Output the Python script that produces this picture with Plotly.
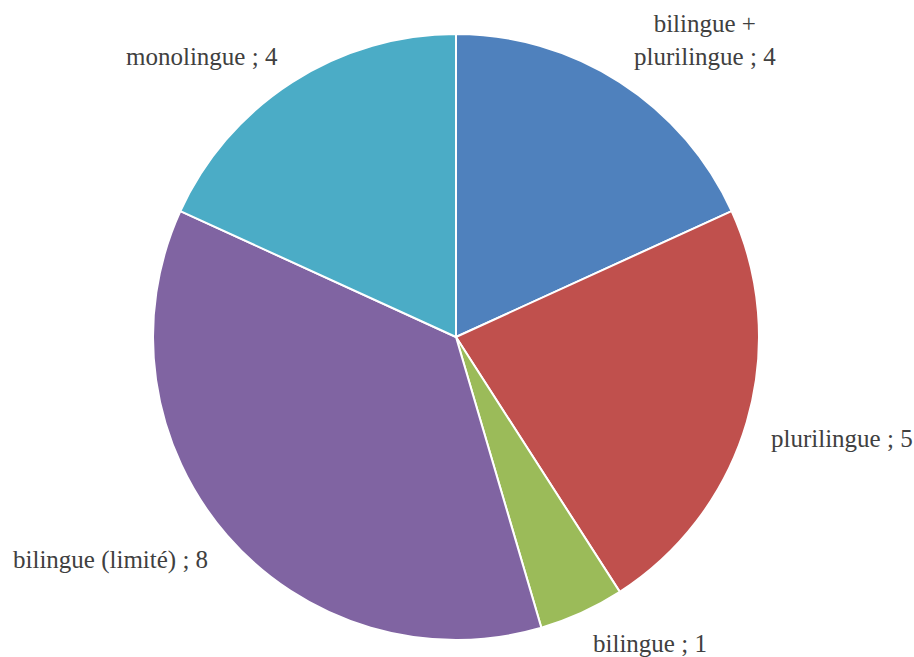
import math
import plotly.graph_objects as go

categories = ["bilingue + plurilingue", "plurilingue", "bilingue", "bilingue (limité)", "monolingue"]
values = [4, 5, 1, 8, 4]
label_text = ["bilingue +<br>plurilingue ; 4", "plurilingue ; 5", "bilingue ; 1",
              "bilingue (limité) ; 8", "monolingue ; 4"]
colors = ["#4F81BD", "#C0504D", "#9BBB59", "#8064A2", "#4BACC6"]

W, H = 914, 657
cx, cy, r = 456, 337, 303
label_gap = 23

fig = go.Figure(go.Pie(
    labels=categories,
    values=values,
    textinfo="none",
    sort=False,
    direction="clockwise",
    rotation=0,
    marker=dict(colors=colors, line=dict(color="white", width=2)),
    showlegend=False,
    hoverinfo="label+value",
    domain=dict(x=[(cx - r) / W, (cx + r) / W], y=[1 - (cy + r) / H, 1 - (cy - r) / H]),
))

# Excel-style outside labels: nearest corner of the label sits just beyond the slice mid-angle
total = sum(values)
cum = 0
annotations = []
for v, t in zip(values, label_text):
    mid = (cum + v / 2) / total * 2 * math.pi
    cum += v
    R = r + label_gap
    sx = cx + R * math.sin(mid)
    sy = cy - R * math.cos(mid)
    above = math.cos(mid) > 0
    annotations.append(dict(
        x=sx / W, y=1 - sy / H, xref="paper", yref="paper",
        text=t, showarrow=False, align="center",
        xanchor="left" if math.sin(mid) > 0 else "right",
        yanchor="bottom" if above else "top",
        yshift=-9 if above else 6,
        font=dict(family="Liberation Serif", size=25, color="#404040"),
    ))

fig.update_layout(
    width=W, height=H,
    margin=dict(l=0, r=0, t=0, b=0),
    paper_bgcolor="white",
    plot_bgcolor="white",
    annotations=annotations,
)

fig.write_html(
    "out.html",
    config={"displayModeBar": False},
    post_script="document.body.style.margin='0';document.body.style.overflow='hidden';",
)
